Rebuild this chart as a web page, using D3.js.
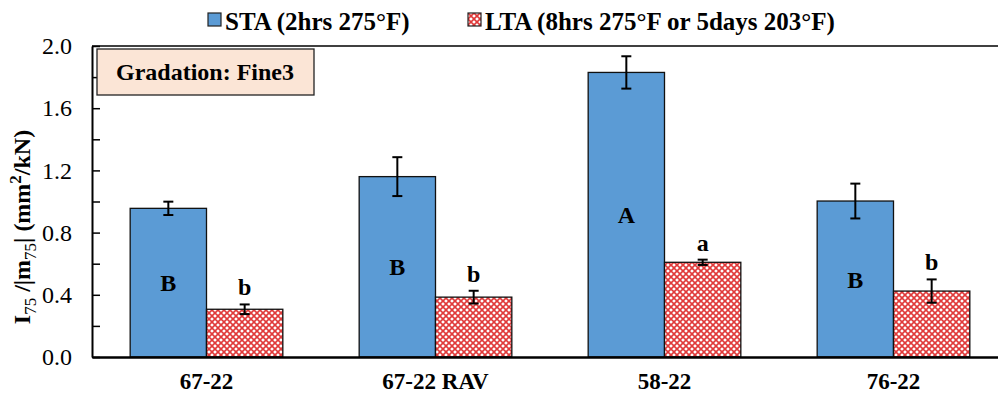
<!DOCTYPE html>
<meta charset="utf-8">
<style>
  body { margin: 0; background: #fff; }
  text { font-family: "Liberation Serif", "Times New Roman", serif; }
</style>
<body>
<script src="https://d3js.org/d3.v7.min.js"></script>
<script>

// chart values
var categories = ["67-22", "67-22 RAV", "58-22", "76-22"];
var seriesNames = ["STA (2hrs 275\u00B0F)", "LTA (8hrs 275\u00B0F or 5days 203\u00B0F)"];
var staValues = [0.956, 1.160, 1.830, 1.003];
var staErrors = [0.043, 0.125, 0.104, 0.112];
var staLetters = ["B", "B", "A", "B"];
var ltaValues = [0.307, 0.385, 0.609, 0.424];
var ltaErrors = [0.031, 0.041, 0.017, 0.075];
var ltaLetters = ["b", "b", "a", "b"];
var yTicks = [0, 0.4, 0.8, 1.2, 1.6, 2.0];
var yMinorTicks = [0.2, 0.6, 1.0, 1.4, 1.8];
var boxLabel = "Gradation: Fine3";

var margin = {top: 46, left: 92},
    width = 916,
    height = 311;

var svg = d3.select("body").append("svg")
    .attr("width", 998)
    .attr("height", 398);

// red / white crosshatch for the LTA bars
var defs = svg.append("defs");
var pat = defs.append("pattern")
    .attr("id", "hatch")
    .attr("patternUnits", "userSpaceOnUse")
    .attr("width", 6)
    .attr("height", 6);
pat.append("rect").attr("width", 6).attr("height", 6).attr("fill", "#fff");
pat.append("path")
    .attr("d", "M0,0 L6,6 M6,0 L0,6")
    .attr("stroke", "#e03a3a")
    .attr("stroke-width", 1.6);

var g = svg.append("g")
    .attr("transform", "translate(" + margin.left + "," + margin.top + ")");

var x0 = d3.scaleBand()
    .domain(categories)
    .range([0, width])
    .paddingInner(1 / 3)
    .paddingOuter(1 / 6);

var x1 = d3.scaleBand()
    .domain([0, 1])
    .range([0, x0.bandwidth()]);

var y = d3.scaleLinear()
    .domain([0, 2])
    .range([height, 0]);

var rows = categories.map(function(c, i) {
  return [
    {cat: c, s: 0, v: staValues[i], e: staErrors[i], l: staLetters[i]},
    {cat: c, s: 1, v: ltaValues[i], e: ltaErrors[i], l: ltaLetters[i]}
  ];
});
var flat = d3.merge(rows);

// bars
g.selectAll(".bar")
    .data(flat)
  .enter().append("rect")
    .attr("class", "bar")
    .attr("x", function(d) { return x0(d.cat) + x1(d.s); })
    .attr("y", function(d) { return y(d.v); })
    .attr("width", x1.bandwidth())
    .attr("height", function(d) { return height - y(d.v); })
    .attr("fill", function(d) { return d.s === 0 ? "#5b9bd5" : "url(#hatch)"; })
    .attr("stroke", "#111")
    .attr("stroke-width", 1.3);

// error bars
var eb = g.selectAll(".err")
    .data(flat)
  .enter().append("g")
    .attr("class", "err")
    .attr("transform", function(d) { return "translate(" + (x0(d.cat) + x1(d.s) + x1.bandwidth() / 2) + ",0)"; });
eb.append("line")
    .attr("y1", function(d) { return y(d.v + d.e); })
    .attr("y2", function(d) { return y(d.v - d.e); });
eb.append("line")
    .attr("x1", -5).attr("x2", 5)
    .attr("y1", function(d) { return y(d.v + d.e); })
    .attr("y2", function(d) { return y(d.v + d.e); });
eb.append("line")
    .attr("x1", -5).attr("x2", 5)
    .attr("y1", function(d) { return y(d.v - d.e); })
    .attr("y2", function(d) { return y(d.v - d.e); });
eb.selectAll("line").attr("stroke", "#000").attr("stroke-width", 2);

// letters: STA mid-bar, LTA above error bar
g.selectAll(".letter")
    .data(flat)
  .enter().append("text")
    .attr("class", "letter")
    .attr("x", function(d) { return x0(d.cat) + x1(d.s) + x1.bandwidth() / 2; })
    .attr("y", function(d) { return d.s === 0 ? y(d.v / 2) + 8.5 : y(d.v + d.e) - 9; })
    .attr("text-anchor", "middle")
    .style("font-size", "24px")
    .style("font-weight", "bold")
    .text(function(d) { return d.l; });

// y axis, ticks pointing in
var yAxis = g.append("g")
    .call(d3.axisLeft(y).tickValues(yTicks).tickFormat(d3.format(".1f"))
      .tickSizeInner(-8).tickSizeOuter(0).tickPadding(20));
yAxis.select(".domain").attr("stroke-width", 2);
yAxis.selectAll(".tick line").attr("stroke-width", 1.5);
yAxis.selectAll("text")
    .style("font-size", "24px")
    .style("font-family", "Liberation Serif, serif");

var yMinor = g.append("g")
    .call(d3.axisLeft(y).tickValues(yMinorTicks).tickFormat("")
      .tickSizeInner(-8).tickSizeOuter(0));
yMinor.select(".domain").remove();
yMinor.selectAll(".tick line").attr("stroke-width", 1.5);

// x axis
var xAxis = g.append("g")
    .attr("transform", "translate(0," + height + ")")
    .call(d3.axisBottom(x0).tickSize(0).tickPadding(16));
xAxis.select(".domain").attr("stroke-width", 2.5);
xAxis.selectAll("text")
    .style("font-size", "23px")
    .style("font-weight", "bold")
    .style("font-family", "Liberation Serif, serif");

// top frame line
g.append("line")
    .attr("x1", 0).attr("x2", width)
    .attr("y1", 0).attr("y2", 0)
    .attr("stroke", "#000")
    .attr("stroke-width", 1.5);

// gradation box
g.append("rect")
    .attr("x", 5).attr("y", 3)
    .attr("width", 217).attr("height", 46)
    .attr("fill", "#fbe5d6")
    .attr("stroke", "#222")
    .attr("stroke-width", 1.3);
g.append("text")
    .attr("x", 113).attr("y", 34)
    .attr("text-anchor", "middle")
    .style("font-size", "24px")
    .style("font-weight", "bold")
    .text(boxLabel);

// y axis title
var yt = svg.append("text")
    .attr("transform", "translate(30,227) rotate(-90)")
    .attr("text-anchor", "middle")
    .style("font-size", "24px")
    .style("font-weight", "bold");
yt.append("tspan").text("I");
yt.append("tspan").attr("dy", 6).style("font-size", "17px").style("font-weight", "normal").text("75");
yt.append("tspan").attr("dy", -6).text(" /|m");
yt.append("tspan").attr("dy", 6).style("font-size", "17px").style("font-weight", "normal").text("75");
yt.append("tspan").attr("dy", -6).text("| (mm");
yt.append("tspan").attr("dy", -9).style("font-size", "17px").text("2");
yt.append("tspan").attr("dy", 9).text("/kN)");

// legend
var legX = [208, 468];
var leg = svg.selectAll(".leg")
    .data(seriesNames)
  .enter().append("g")
    .attr("class", "leg")
    .attr("transform", function(d, i) { return "translate(" + legX[i] + ",13)"; });
leg.append("rect")
    .attr("width", 13).attr("height", 13)
    .attr("fill", function(d, i) { return i === 0 ? "#5b9bd5" : "url(#hatch)"; })
    .attr("stroke", "#222")
    .attr("stroke-width", 1.2);
leg.append("text")
    .attr("x", 17).attr("y", 17)
    .style("font-size", "25px")
    .style("font-weight", "bold")
    .text(function(d) { return d; });

</script>
</body>
